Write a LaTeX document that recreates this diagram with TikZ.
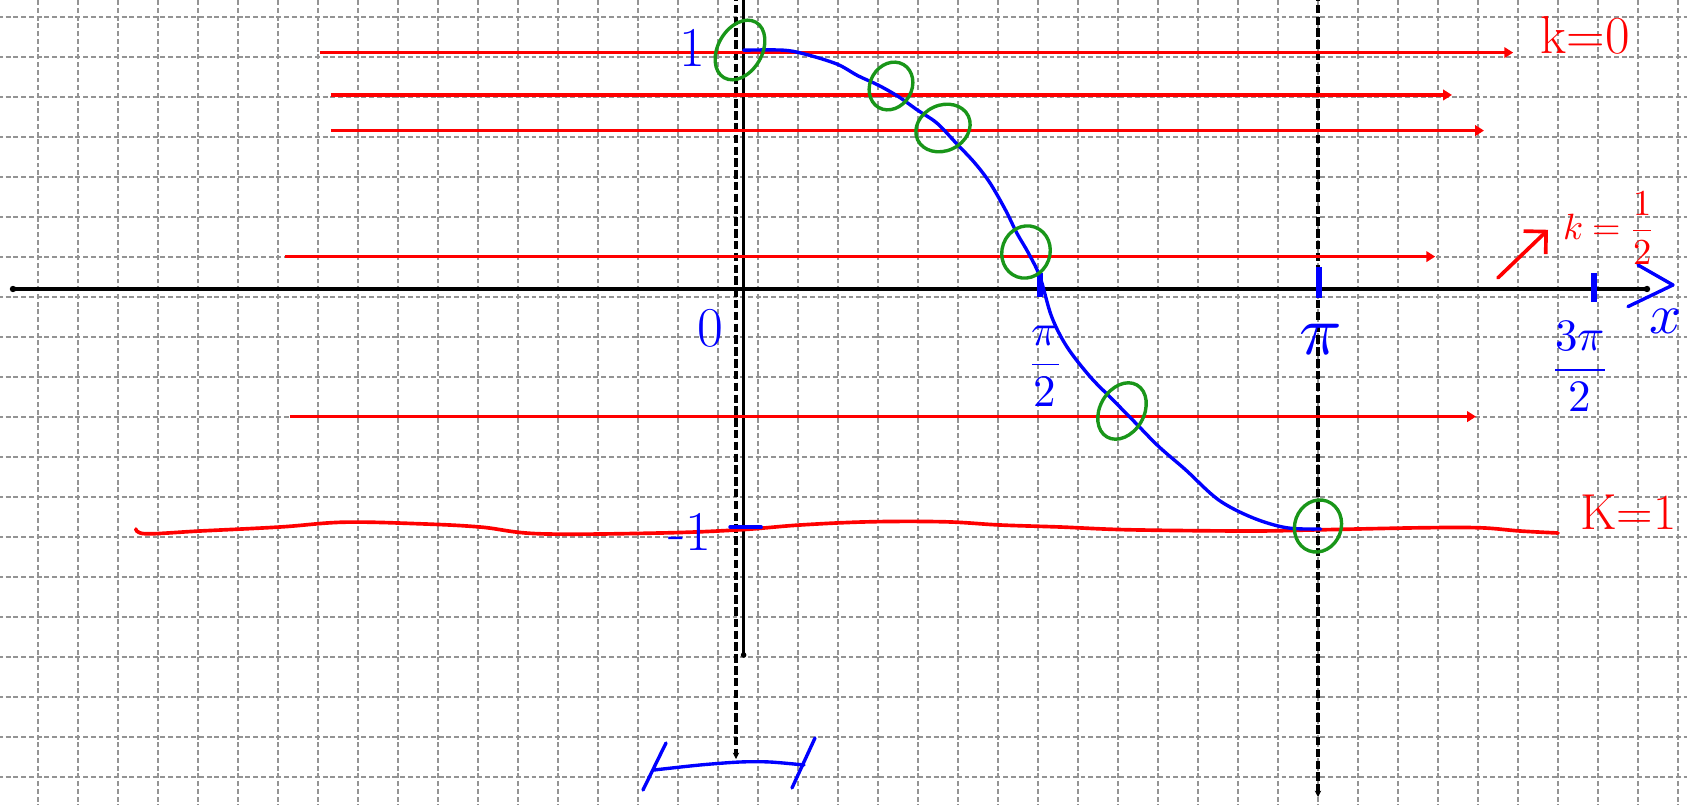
\documentclass[tikz,border=0pt]{standalone}
\usepackage{amsmath}
\usepackage{unicode-math}
\usepackage{xcolor}
\usepackage{tikz}
\usetikzlibrary{calc, arrows.meta}

\definecolor{penred}{RGB}{255,0,0}
\definecolor{penblue}{RGB}{0,0,255}
\definecolor{pengreen}{RGB}{25,150,25}

\begin{document}
\begin{tikzpicture}[>=stealth,
    gridline/.style={black!42, line width=1.4pt, dash pattern=on 3.5pt off 2pt},
    axisline/.style={black, line width=2.2pt},
    guideline/.style={black, line width=2.6pt, dash pattern=on 6pt off 2.4pt},
    redline/.style={penred, line width=2.6pt, -{Triangle[length=2.2mm, width=2.6mm]}},
    bluepen/.style={penblue, line width=2.4pt, line cap=round, line join=round},
    greenring/.style={pengreen, line width=2.4pt},
    bluelbl/.style={text=penblue, inner sep=0pt},
    redlbl/.style={text=penred, inner sep=0pt}]

    % =================================================================
    % 1. KHUNG HINH VA LUOI O VUONG
    % =================================================================
    \useasboundingbox (-18.55,-12.9) rectangle (23.625,7.225);
    \clip (-18.55,-12.9) rectangle (23.625,7.225);
    \fill[white] (-18.55,-12.9) rectangle (23.625,7.225);
    \draw[gridline, shift={(0.4,-0.2)}] (-19,-13) grid (24,8);

    % =================================================================
    % 2. TOA DO CAC DIEM CHINH
    % =================================================================
    \coordinate (O) at (0,0);
    \coordinate (XL) at (-18.225,0);
    \coordinate (XR) at (22.625,0);
    \coordinate (YT) at (0.04,7.4);
    \coordinate (YB) at (0.04,-9.15);
    \coordinate (DT) at (-0.15,7.4);
    \coordinate (DB) at (-0.15,-11.75);
    \coordinate (PT) at (14.4,7.4);
    \coordinate (PB) at (14.4,-12.7);

    % =================================================================
    % 3. CAC TRUC VA DUONG GIONG
    % =================================================================
    \draw[axisline] (XL) -- (XR);
    \fill (XL) circle (0.08);
    \fill (XR) circle (0.08);
    \draw[axisline] (YT) -- (YB);
    \fill (YB) circle (0.07);
    \draw[guideline, -{Stealth[length=1.6mm, width=1.6mm]}] (DT) -- (DB);
    \draw[guideline, -{Stealth[length=1.6mm, width=1.6mm]}] (PT) -- (PB);

    % =================================================================
    % 4. CAC DUONG NGANG MAU DO
    % =================================================================
    \draw[redline] (-10.56,5.91) -- (19.28,5.91);
    \draw[redline] (-10.28,4.85) -- (17.75,4.85);
    \draw[redline] (-10.28,3.96) -- (18.55,3.96);
    \draw[redline] (-11.43,0.81) -- (17.33,0.81);
    \draw[redline] (-11.30,-3.19) -- (18.35,-3.19);
    % duong k = 1 ve tay
    \draw[penred, line width=2.6pt, line cap=round] plot[smooth, tension=0.6] coordinates {
        (-15.15,-6.0) (-14.9,-6.12) (-13.55,-6.05) (-11.55,-5.95) (-9.95,-5.83)
        (-8.05,-5.87) (-6.55,-5.95) (-5.05,-6.12) (-2.05,-6.10) (-0.05,-6.02)
        (1.45,-5.90) (3.2,-5.82) (5.07,-5.82) (6.45,-5.90) (7.95,-5.95)
        (9.7,-6.02) (12.7,-6.05) (14.45,-6.02) (16.95,-5.97) (18.45,-5.97)
        (19.45,-6.05) (20.4,-6.10)};

    % =================================================================
    % 5. DO THI MAU XANH VA CAC VACH CHIA
    % =================================================================
    \draw[bluepen] plot[smooth, tension=0.55] coordinates {
        (0.04,5.97) (1.04,5.97) (1.62,5.86) (2.38,5.62) (2.9,5.33) (3.4,5.10)
        (3.91,4.81) (4.39,4.47) (4.87,4.15) (5.35,3.65) (5.82,3.15) (6.2,2.65)
        (6.59,1.97) (6.87,1.40) (7.16,0.90) (7.45,0.30) (7.74,-0.69) (8.12,-1.44)
        (8.7,-2.19) (9.27,-2.77) (9.84,-3.35) (10.42,-3.94) (11.09,-4.52)
        (11.91,-5.27) (12.77,-5.72) (13.62,-5.97) (14.47,-6.0)};
    \draw[penblue, line width=4pt] (7.45,0.40) -- (7.45,-0.20);
    \draw[penblue, line width=4pt] (14.42,0.55) -- (14.42,-0.22);
    \draw[penblue, line width=4pt] (21.3,0.40) -- (21.3,-0.33);
    \draw[bluepen] (-0.30,-5.95) -- (0.48,-5.95);
    % mui ten ve tay o cuoi truc x
    \draw[bluepen] (22.4,0.6) -- (23.275,0.1) -- (22.15,-0.44);

    % =================================================================
    % 6. CAC VONG TRON GIAO DIEM
    % =================================================================
    \draw[greenring] (-0.05,5.975) circle[x radius=0.8, y radius=0.55, rotate=60];
    \draw[greenring] (3.725,5.075) circle[x radius=0.62, y radius=0.52, rotate=60];
    \draw[greenring] (5.025,4.025) circle[x radius=0.70, y radius=0.57, rotate=25];
    \draw[greenring] (7.1,0.925) circle[x radius=0.66, y radius=0.60, rotate=70];
    \draw[greenring] (9.5,-3.05) circle[x radius=0.75, y radius=0.55, rotate=60];
    \draw[greenring] (14.4,-5.925) circle[x radius=0.66, y radius=0.58, rotate=70];

    % =================================================================
    % 7. DOAN DANH DAU PHIA DUOI
    % =================================================================
    \draw[bluepen] (-1.9,-11.35) -- (-2.475,-12.525);
    \draw[bluepen] plot[smooth] coordinates {(-2.2,-12.025) (-1.05,-11.9) (-0.05,-11.825) (0.7,-11.825) (1.55,-11.9)};
    \draw[bluepen] (1.825,-11.225) -- (1.25,-12.475);

    % =================================================================
    % 8. NHAN TREN HINH
    % =================================================================
    \node[bluelbl, font=\fontsize{40}{44}\selectfont] (one) at (-1.25,6.02) {1};
    \node[bluelbl, font=\fontsize{40}{44}\selectfont] (zero) at (-0.78,-0.98) {0};
    \node[bluelbl, font=\fontsize{40}{44}\selectfont] (minusone) at (-1.3,-6.08) {-1};
    \node[bluelbl, font=\fontsize{32}{38}\selectfont] (halfpi) at (7.58,-1.93) {$\dfrac{\pi}{2}$};
    \node[bluelbl, font=\fontsize{50}{56}\selectfont] (pi) at (14.45,-1.28) {$\pi$};
    \node[bluelbl, font=\fontsize{32}{38}\selectfont] (threehalfpi) at (20.95,-1.93) {$\dfrac{3\pi}{2}$};
    \node[bluelbl, font=\fontsize{40}{44}\selectfont] (xlabel) at (23.1,-0.8) {$x$};

    \node[redlbl, font=\fontsize{38}{42}\selectfont] (kzero) at (21.08,6.33) {k=0};
    \node[redlbl, font=\fontsize{26}{30}\selectfont] (khalf) at (21.65,1.53) {$k=\dfrac{1}{2}$};
    \node[redlbl, font=\fontsize{36}{40}\selectfont, anchor=west] (kone) at (20.95,-5.58) {K=1};
    % mui ten chi vao nhan k = 1/2
    \draw[penred, line width=2.6pt, line cap=round, -{Straight Barb[length=4mm, width=8mm]}] (18.9,0.28) -- (20.15,1.48);

\end{tikzpicture}
\end{document}
